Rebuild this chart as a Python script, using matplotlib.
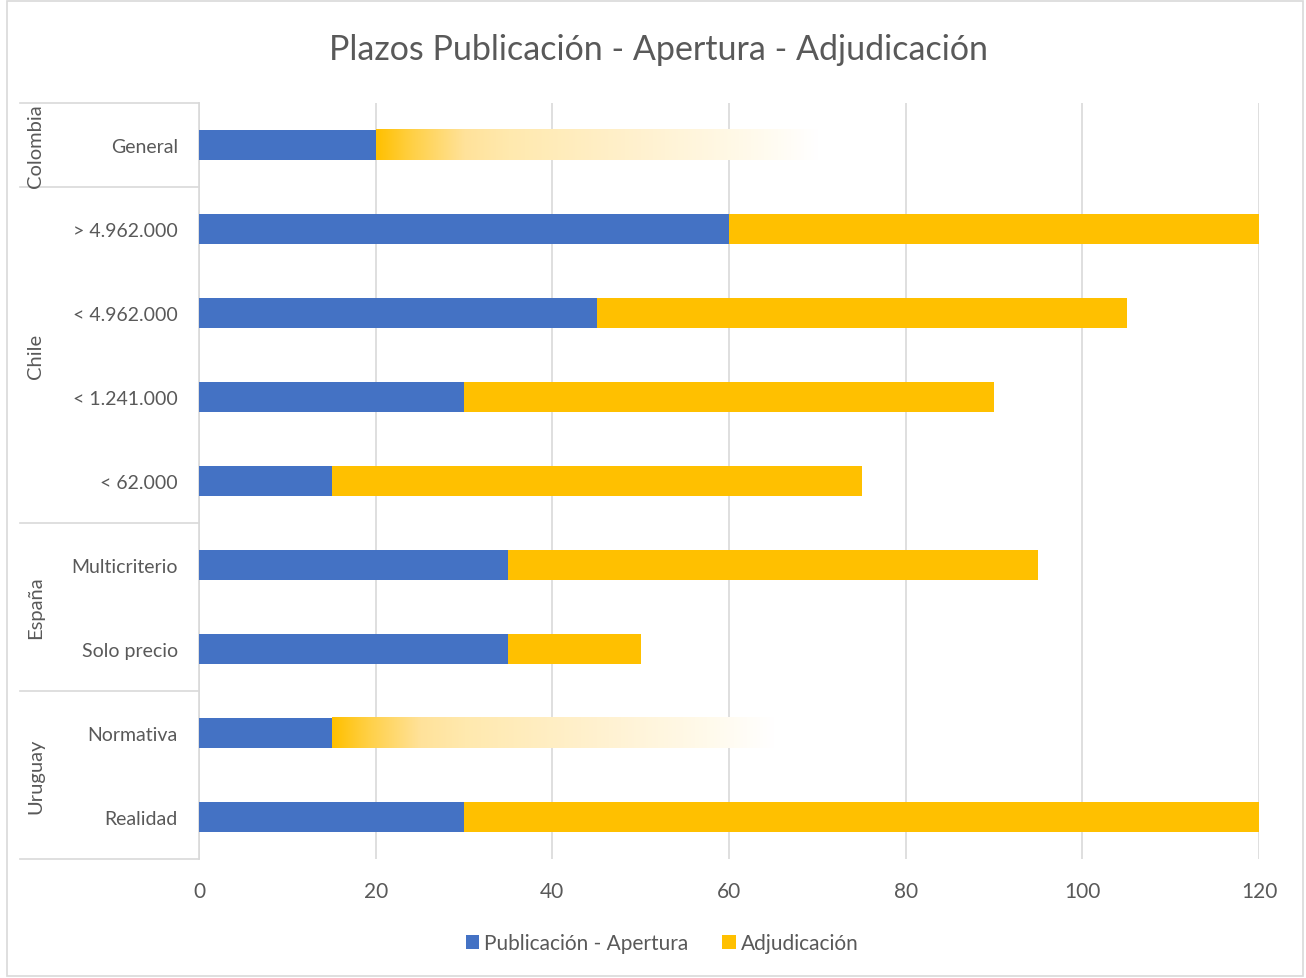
import numpy as np
import matplotlib.pyplot as plt
from matplotlib.colors import LinearSegmentedColormap
from matplotlib.patches import Rectangle

plt.rcParams['font.family'] = ['Lato', 'DejaVu Sans']

categories = ['General', '> 4.962.000', '< 4.962.000', '< 1.241.000', '< 62.000',
              'Multicriterio', 'Solo precio', 'Normativa', 'Realidad']
groups = ['Colombia', 'Chile', 'España', 'Uruguay']
group_sizes = [1, 4, 2, 2]
publicacion = [20, 60, 45, 30, 15, 35, 35, 15, 30]
adjudicacion = [50, 60, 60, 60, 60, 60, 15, 50, 90]
# rows whose Adjudicación bar is drawn as a fading gradient
gradient_rows = [0, 7]

blue = '#4472C4'
gold = '#FFC000'
grey_text = '#595959'
grid_col = '#D9D9D9'

fig = plt.figure(figsize=(13.06, 9.79), dpi=100)
ax = fig.add_axes([199 / 1306, 1 - 860 / 979, 1060 / 1306, 756 / 979])

y = np.arange(len(categories))
h = 0.36
ax.barh(y, publicacion, height=h, color=blue, label='Publicación - Apertura', zorder=3)
solid = [a if i not in gradient_rows else 0 for i, a in enumerate(adjudicacion)]
ax.barh(y, solid, left=publicacion, height=h, color=gold, label='Adjudicación', zorder=3)

fade = LinearSegmentedColormap.from_list('fade', [
    (0.0, '#FFC000'), (0.08, '#FFD045'), (0.2, '#FFE29A'), (0.3, '#FFE9AE'),
    (0.6, '#FFF1CF'), (0.85, '#FFFAEB'), (1.0, '#FFFFFF')])
grad = np.linspace(0, 1, 256).reshape(1, -1)
for i in gradient_rows:
    x0 = publicacion[i]
    ax.imshow(grad, cmap=fade, aspect='auto', zorder=3, interpolation='bicubic',
              extent=[x0, x0 + adjudicacion[i], y[i] + h / 2, y[i] - h / 2])

ax.set_xlim(0, 120)
ax.set_ylim(len(categories) - 0.5, -0.5)
ax.set_xticks(np.arange(0, 121, 20))
ax.set_yticks([])
ax.tick_params(axis='x', length=0, labelsize=15, colors=grey_text, pad=16)
ax.grid(axis='x', color=grid_col, linewidth=1.2, zorder=0)
for s in ['top', 'right', 'bottom']:
    ax.spines[s].set_visible(False)
ax.spines['left'].set_color(grid_col)
ax.spines['left'].set_linewidth(1.2)

tr = ax.get_yaxis_transform()
for i, c in enumerate(categories):
    ax.text(-0.02, y[i] + 0.02, c, transform=tr, ha='right', va='center', fontsize=14, color=grey_text)

start = 0
bounds = [-0.5]
for g, n in zip(groups, group_sizes):
    mid = start + (n - 1) / 2
    ax.text(-0.154, mid, g, transform=tr, ha='center', va='center', rotation=90,
            fontsize=14.5, color=grey_text)
    start += n
    bounds.append(start - 0.5)
for b in bounds:
    ax.plot([-0.169, 0], [b, b], transform=tr, color=grid_col, linewidth=1.2, clip_on=False)

fig.text(0.504, 1 - 50 / 979, 'Plazos Publicación - Apertura - Adjudicación',
         ha='center', va='center', fontsize=24.5, color=grey_text)

fig.legend(loc='center', bbox_to_anchor=(0.507, 1 - 944 / 979), ncol=2, frameon=False,
           fontsize=15, labelcolor=grey_text, handlelength=0.65, handleheight=0.65,
           handletextpad=0.25, columnspacing=1.6)

fig.patches.append(Rectangle((7 / 1306, 2 / 979), 1 - 10 / 1306, 1 - 4 / 979, transform=fig.transFigure,
                             fill=False, edgecolor=grid_col, linewidth=1.2))

fig.savefig('out.png', dpi=100)
